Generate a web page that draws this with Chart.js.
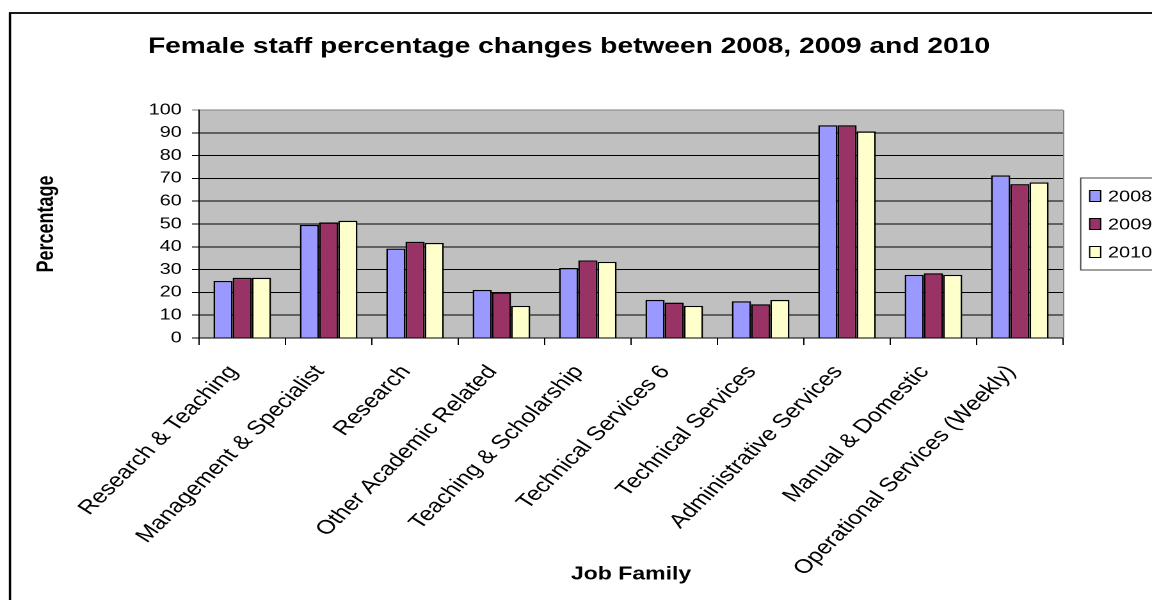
<!DOCTYPE html>
<html>
<head>
<meta charset="utf-8">
<script src="https://cdn.jsdelivr.net/npm/chart.js@4.4.1/dist/chart.umd.min.js"></script>
<style>
  html, body { margin: 0; padding: 0; background: #ffffff; overflow: hidden; width: 1152px; height: 600px; }
  #wrap { position: absolute; left: 0; top: 0; width: 920px; height: 600px; transform: scaleX(1.28); transform-origin: 0 0; }
</style>
</head>
<body>
<div id="wrap"><canvas id="chart"></canvas></div>
<script>
const categories = [
  'Research & Teaching', 'Management & Specialist', 'Research', 'Other Academic Related',
  'Teaching & Scholarship', 'Technical Services 6', 'Technical Services',
  'Administrative Services', 'Manual & Domestic', 'Operational Services (Weekly)'
];
const seriesNames = ['2008', '2009', '2010'];
const values2008 = [25.0, 49.6, 39.2, 21.1, 30.7, 16.7, 16.1, 93.3, 27.7, 71.3];
const values2009 = [26.4, 50.7, 42.2, 19.9, 34.0, 15.5, 14.8, 93.3, 28.4, 67.5];
const values2010 = [26.4, 51.4, 41.7, 14.1, 33.4, 14.1, 16.7, 90.6, 27.7, 68.2];
const yMin = 0, yMax = 100, yStep = 10;

const seriesColors = ['#9999FF', '#993366', '#FFFFCC'];
const FONT = '"Liberation Sans", Arial, sans-serif';

const framePlugin = {
  id: 'frame',
  beforeDraw(chart) {
    const { ctx, chartArea: a } = chart;
    ctx.save();
    ctx.fillStyle = '#C0C0C0';
    ctx.fillRect(a.left, a.top, a.right - a.left, a.bottom - a.top);
    ctx.restore();
  },
  afterDraw(chart) {
    const { ctx, chartArea: a, width } = chart;
    ctx.save();
    // plot area right border (gray)
    ctx.strokeStyle = '#808080';
    ctx.lineWidth = 1;
    ctx.beginPath();
    ctx.moveTo(a.right + 0.5, a.top);
    ctx.lineTo(a.right + 0.5, a.bottom);
    ctx.stroke();
    // outer chart border
    ctx.strokeStyle = '#000000';
    ctx.lineWidth = 1.8;
    ctx.strokeRect(7.8, 13, width + 20, 620);
    // legend
    const lx = a.right + 13.8;
    const cy = (a.top + a.bottom) / 2;
    const spacing = 28;
    const n = chart.data.datasets.length;
    ctx.strokeStyle = '#404040';
    ctx.lineWidth = 1;
    ctx.strokeRect(lx, cy - 46, 200, 92);
    ctx.font = '15.5px ' + FONT;
    ctx.textBaseline = 'middle';
    ctx.textAlign = 'left';
    chart.data.datasets.forEach((ds, i) => {
      const y = cy + (i - (n - 1) / 2) * spacing;
      ctx.fillStyle = ds.backgroundColor;
      ctx.fillRect(lx + 7, y - 5.5, 8.6, 11);
      ctx.strokeStyle = '#000000';
      ctx.strokeRect(lx + 7, y - 5.5, 8.6, 11);
      ctx.fillStyle = '#000000';
      ctx.fillText(ds.label, lx + 21.3, y + 1);
    });
    ctx.restore();
  }
};

new Chart(document.getElementById('chart'), {
  type: 'bar',
  data: {
    labels: categories,
    datasets: [
      { label: seriesNames[0], data: values2008, backgroundColor: seriesColors[0] },
      { label: seriesNames[1], data: values2009, backgroundColor: seriesColors[1] },
      { label: seriesNames[2], data: values2010, backgroundColor: seriesColors[2] }
    ]
  },
  options: {
    responsive: true,
    maintainAspectRatio: false,
    animation: false,
    devicePixelRatio: 2,
    layout: { padding: { left: 0, right: 31, top: 0, bottom: 0 } },
    datasets: {
      bar: { borderColor: '#000000', borderWidth: 1.3, categoryPercentage: 0.667, barPercentage: 1.0 }
    },
    plugins: {
      legend: { display: false },
      tooltip: { enabled: false },
      title: {
        display: true,
        text: 'Female staff percentage changes between 2008, 2009 and 2010',
        color: '#000000',
        font: { family: FONT, size: 22, weight: 'bold' },
        padding: { top: 33.8, bottom: 49.8 }
      }
    },
    scales: {
      x: {
        grid: { drawOnChartArea: false, drawTicks: true, tickLength: 7, color: '#000000', offset: true },
        border: { color: '#000000', width: 1 },
        ticks: {
          color: '#000000', font: { family: FONT, size: 19.5 },
          autoSkip: false, maxRotation: 51, minRotation: 51, padding: 16, labelOffset: -7
        },
        title: {
          display: true, text: 'Job Family', color: '#000000',
          font: { family: FONT, size: 18, weight: 'bold' },
          padding: { top: 0, bottom: 14.8 }
        },
        afterFit: s => { s.height = 262; }
      },
      y: {
        min: yMin, max: yMax,
        grid: {
          color: ctx => (ctx.tick && ctx.tick.value === yMax ? '#808080' : '#000000'),
          lineWidth: 1, tickLength: 5.5, drawTicks: true
        },
        border: { color: '#000000', width: 1 },
        ticks: { stepSize: yStep, color: '#000000', font: { family: FONT, size: 15.5 }, padding: 8 },
        title: {
          display: true, text: 'Percentage', color: '#000000',
          font: { family: FONT, size: 18, weight: 'bold' },
          padding: { top: 25.5, bottom: 0 }
        },
        afterFit: s => { s.width = 155.5; }
      },
      yR: {
        type: 'linear', position: 'right', display: true,
        grid: { display: false, drawTicks: false },
        border: { display: false },
        ticks: { display: false },
        afterFit: s => { s.width = 58.5; }
      }
    }
  },
  plugins: [framePlugin]
});
</script>
</body>
</html>
